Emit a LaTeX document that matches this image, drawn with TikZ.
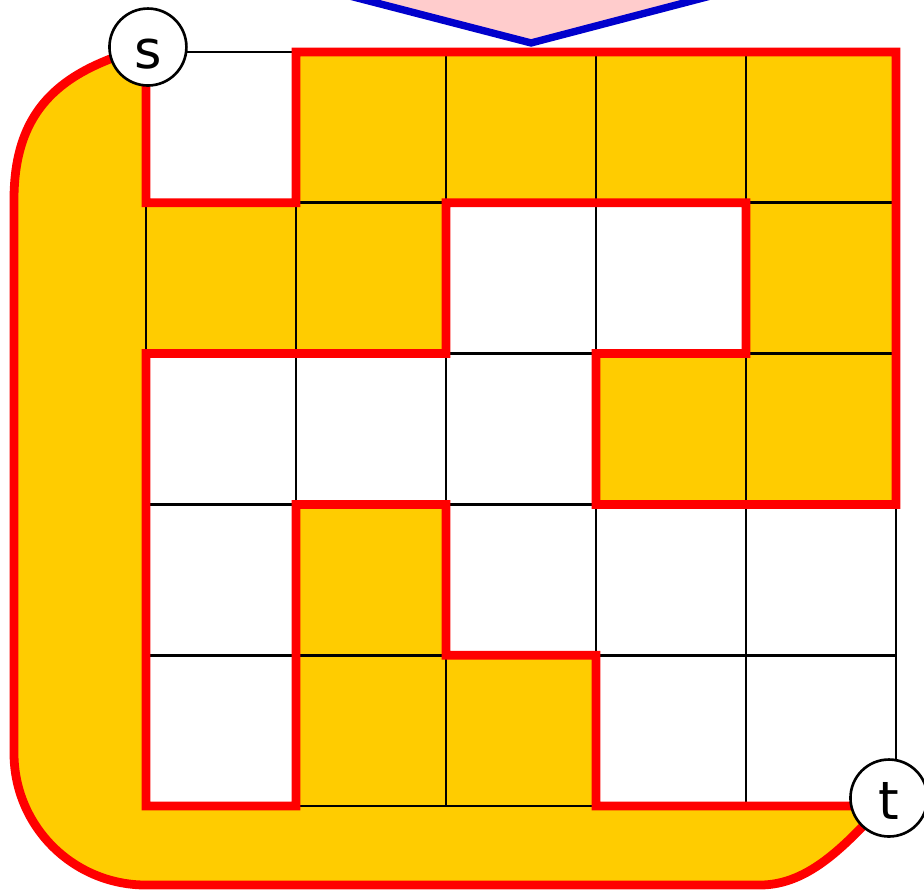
\documentclass[tikz,border=0pt]{standalone}
\usepackage{fontspec}
\setmainfont{DejaVu Sans}
\definecolor{gold}{RGB}{255,204,0}
\definecolor{pinkish}{RGB}{255,204,204}
\definecolor{deepblue}{RGB}{0,0,204}
\def\cutline{(sc) -- (0,0.2) -- (0,1) -- (1,1) -- (1,0) -- (5,0) -- (5,3) -- (3,3) -- (3,2) -- (4,2) -- (4,1) -- (2,1) -- (2,2) -- (0,2) -- (0,5) -- (1,5) -- (1,3) -- (2,3) -- (2,4) -- (3,4) -- (3,5) -- (4.8,5) -- (tc)
    .. controls (4.68,5.245) and (4.427,5.524) .. (4.093,5.524) -- (0,5.524)
    .. controls (-0.487,5.524) and (-0.88,5.133) .. (-0.88,4.649) -- (-0.88,0.981)
    .. controls (-0.88,0.384) and (-0.573,0.119) .. (sc) -- cycle}
\begin{document}
\begin{tikzpicture}[x=3cm, y=-3.016cm,
    redline/.style={draw=red, line width=5pt},
    gridline/.style={draw=black, line width=1.5pt},
    terminal/.style={circle, draw=black, fill=white, line width=1.5pt, minimum size=43.8pt, inner sep=0pt,
        font=\fontsize{30}{30}\selectfont, text height=24.5pt, text depth=0pt}]
    \useasboundingbox (-0.9733,-0.3448) rectangle (5.1867,5.5504);
    \clip (-0.9733,-0.3448) rectangle (5.1867,5.5504);
    \coordinate (sc) at (0.013,-0.033);
    \coordinate (tc) at (4.953,4.947);
    \filldraw[fill=pinkish, draw=deepblue, line width=4.2pt] (0.687,-0.544) -- (2.567,-0.06) -- (4.427,-0.544);
    \fill[gold] \cutline;
    \foreach \i in {0,...,5} {
        \draw[gridline] (\i,0) -- (\i,5);
        \draw[gridline] (0,\i) -- (5,\i);
    }
    \draw[redline] \cutline;
    \node[terminal] (s) at (sc) {s};
    \node[terminal] (t) at (tc) {t};
\end{tikzpicture}
\end{document}
